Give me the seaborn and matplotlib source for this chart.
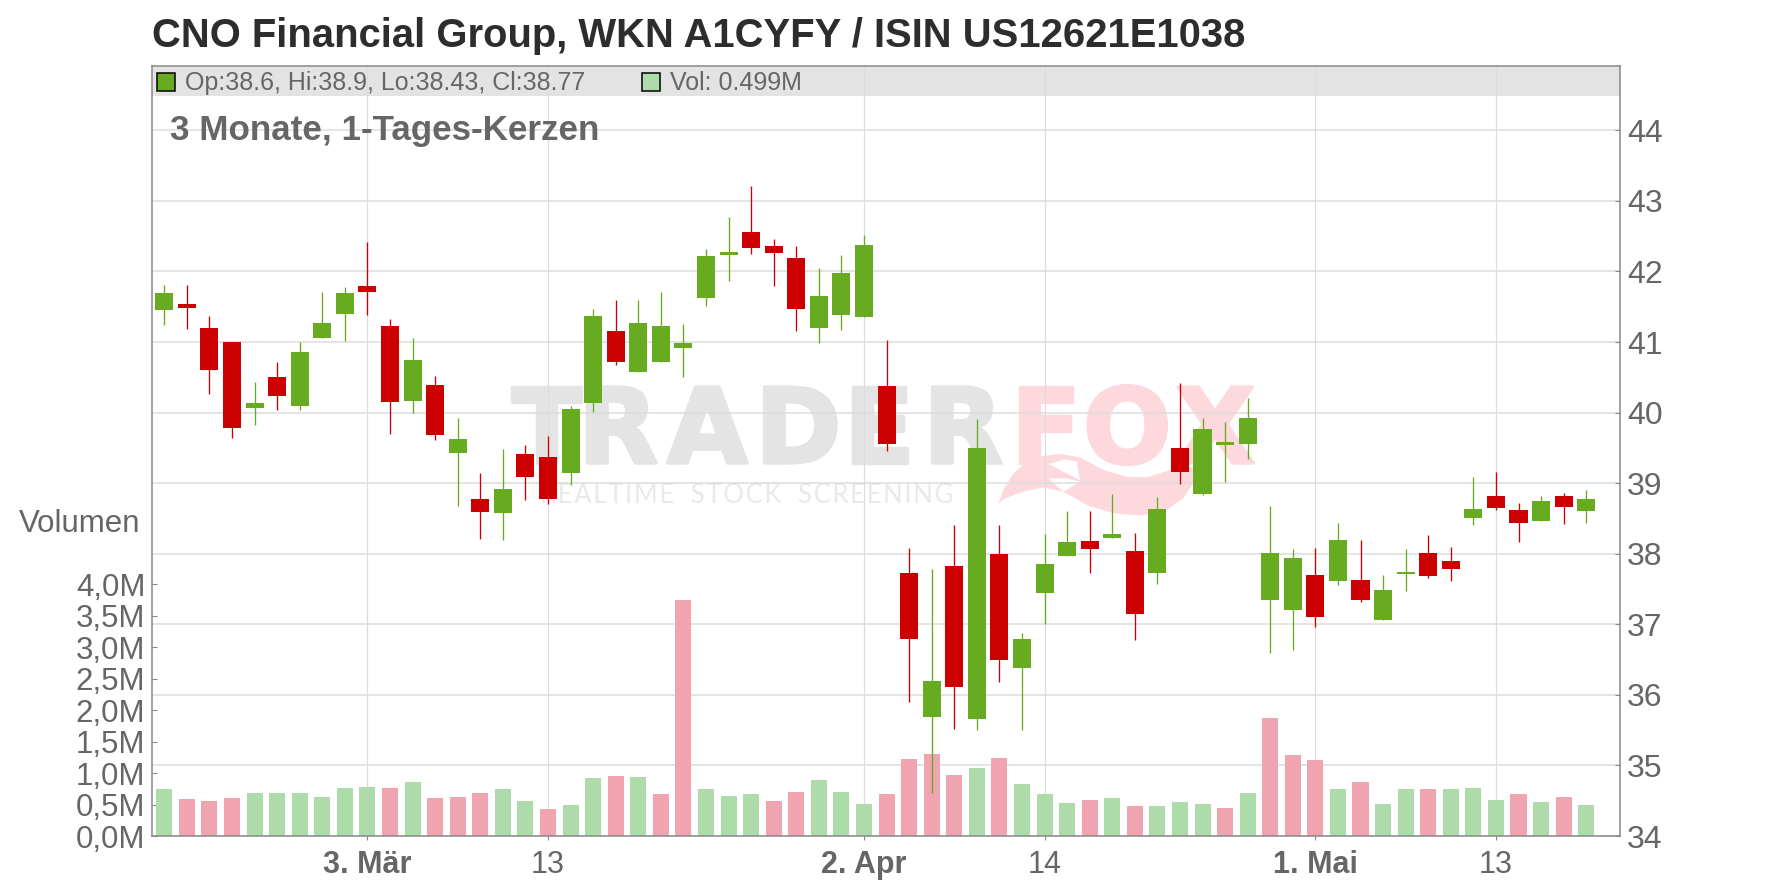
import numpy as np
import pandas as pd
import matplotlib
matplotlib.use("Agg")
import matplotlib.pyplot as plt
from matplotlib.patches import Polygon, Rectangle
import matplotlib.patheffects as pe
import seaborn as sns

opens = [41.45,41.54,41.20,41.00,40.06,40.50,40.09,41.06,41.40,41.79,41.22,40.17,40.39,39.43,38.78,38.58,
         39.42,39.37,39.15,40.13,41.15,40.57,40.71,40.91,41.62,42.24,42.56,42.36,42.19,41.20,41.38,41.36,
         40.37,37.73,35.69,37.83,35.66,38.00,36.38,37.45,37.97,38.18,38.22,38.04,37.72,39.50,38.85,39.54,
         39.55,37.35,37.20,37.70,37.62,37.63,37.06,37.71,38.01,37.89,38.50,38.82,38.62,38.47,38.82,38.60]
highs = [41.81,41.81,41.37,41.00,40.44,40.72,41.00,41.71,41.78,42.42,41.33,41.06,40.52,39.93,39.15,39.49,
         39.54,39.67,40.10,41.47,41.60,41.60,41.71,41.26,42.32,42.77,43.21,42.46,42.36,42.05,42.23,42.52,
         41.03,38.08,37.78,38.41,39.91,38.41,36.88,38.28,38.61,38.61,38.85,38.30,38.81,40.42,39.92,39.86,
         40.20,38.68,38.07,38.08,38.44,38.20,37.70,38.07,38.27,38.10,39.09,39.16,38.72,38.82,38.86,38.90]
lows = [41.24,41.18,40.27,39.64,39.82,40.03,40.03,41.05,41.02,41.38,39.69,39.99,39.61,38.67,38.21,38.20,
        38.76,38.71,38.98,40.01,40.68,40.57,40.71,40.50,41.51,41.86,42.25,41.79,41.15,40.99,41.17,41.36,
        39.46,35.90,34.61,35.52,35.50,36.18,35.50,37.00,37.97,37.72,38.22,36.78,37.57,38.99,38.83,39.02,
        39.34,36.59,36.64,36.96,37.55,37.31,37.06,37.47,37.65,37.62,38.41,38.62,38.17,38.47,38.42,38.43]
closes = [41.69,41.48,40.61,39.78,40.13,40.23,40.86,41.27,41.69,41.71,40.15,40.74,39.68,39.62,38.59,38.92,
          39.09,38.78,40.05,41.37,40.72,41.27,41.23,40.99,42.22,42.27,42.33,42.26,41.47,41.65,41.98,42.37,
          39.55,36.79,36.20,36.11,39.50,36.50,36.79,37.86,38.17,38.07,38.28,37.15,38.64,39.16,39.77,39.58,
          39.92,38.01,37.94,37.11,38.20,37.35,37.49,37.74,37.69,37.79,38.64,38.65,38.44,38.75,38.66,38.77]
volumes = [.75,.59,.56,.61,.69,.69,.69,.62,.77,.78,.77,.86,.61,.62,.69,.75,
           .56,.43,.50,.93,.96,.94,.66,3.75,.75,.64,.67,.56,.70,.89,.70,.51,
           .66,1.23,1.31,.97,1.08,1.24,.83,.67,.53,.58,.61,.48,.47,.54,.51,.45,
           .69,1.88,1.28,1.21,.74,.86,.51,.74,.75,.75,.77,.58,.66,.54,.62,.499]
volume_up = list("ummmuuuuuumummmuumuumummuuummuuummmmumuuumumuuumummmumuumuuumumu")
price_ticks = [34,35,36,37,38,39,40,41,42,43,44]
volume_ticks = [0,.5,1,1.5,2,2.5,3,3.5,4]
volume_labels = ["0,0M","0,5M","1,0M","1,5M","2,0M","2,5M","3,0M","3,5M","4,0M"]
date_ticks = [9,17,31,39,51,59]
date_labels = ["3. Mär","13","2. Apr","14","1. Mai","13"]
date_bold = [True,False,True,False,True,False]
title = "CNO Financial Group, WKN A1CYFY / ISIN US12621E1038"

GREEN, RED = "#67ab21", "#cc0000"
VGREEN, VRED = "#addcaa", "#efa4af"
TXT = "#666666"
GRID = "#dcdcdc"
SPINE = "#888888"
W, H = 1776, 888
L, R, T, B = 152, 1620, 66, 836

sns.set_theme(style="white")
plt.rcParams["font.family"] = ["Liberation Sans", "DejaVu Sans"]
fig = plt.figure(figsize=(W/100, H/100), dpi=100, facecolor="white")
def fx(x): return x / W
def fy(y): return 1 - y / H

ax = fig.add_axes([fx(L), fy(B), (R-L)/W, (B-T)/H])
ax_vol = ax.twinx()
ax_c = ax.twinx()
ax.set_zorder(1); ax_vol.set_zorder(2); ax_c.set_zorder(3)
ax_vol.patch.set_visible(False); ax_c.patch.set_visible(False)

# volume bars
idx = np.arange(len(opens))
dfv = pd.DataFrame({"i": idx, "v": volumes, "d": volume_up})
sns.barplot(data=dfv, x="i", y="v", hue="d", palette={"u": VGREEN, "m": VRED}, native_scale=True,
            dodge=False, width=.71, saturation=1, legend=False, ax=ax_vol, linewidth=0, errorbar=None)

# candles
o, h, l, c = map(np.array, (opens, highs, lows, closes))
colors = np.where(c >= o, GREEN, RED)
ax_c.vlines(idx, l, h, colors=colors, linewidth=.95, zorder=2)
ax_c.bar(idx, np.abs(c-o), bottom=np.minimum(o, c), width=.8, color=colors, linewidth=0, zorder=3)

xlim = ((L-164.3)/22.57, (R-164.3)/22.57)
plim = (34, 34 + (B-T)/70.57)
for a in (ax, ax_vol, ax_c):
    a.set_xlim(xlim)
    a.set_xlabel(""); a.set_ylabel("")
ax.set_ylim(plim); ax_c.set_ylim(plim)
ax_vol.set_ylim(0, (B-T)/62.9)

# price axis + grid
ax.yaxis.tick_right()
ax.set_yticks(price_ticks)
ax.set_xticks(date_ticks)
ax.set_xticklabels(date_labels)
ax.set_axisbelow("line")
ax.grid(True, axis="y", color=GRID, linewidth=1.1)
ax.grid(True, axis="x", color=GRID, linewidth=.85)
ax.tick_params(axis="y", which="both", right=True, left=False, direction="in", length=3.5, width=.8,
               color=SPINE, labelsize=23, labelcolor=TXT, pad=5)
ax.tick_params(axis="x", bottom=True, direction="out", length=3, width=.8, color=SPINE,
               labelsize=22, labelcolor=TXT, pad=7)
for lab, b in zip(ax.get_xticklabels(), date_bold):
    lab.set_fontweight("bold" if b else "normal")

# volume axis
ax_vol.yaxis.tick_left()
ax_vol.set_yticks(volume_ticks)
ax_vol.set_yticklabels(volume_labels)
ax_vol.tick_params(axis="y", left=True, right=False, direction="in", length=3.5, width=.8, color=SPINE,
                   labelsize=22.5, labelcolor=TXT, pad=4.7)
ax_vol.tick_params(axis="x", bottom=False, labelbottom=False)
ax_c.tick_params(left=False, right=False, bottom=False, labelleft=False, labelright=False, labelbottom=False)

for a in (ax, ax_vol):
    for s in a.spines.values():
        s.set_visible(False)
for s in ax_c.spines.values():
    s.set_visible(True); s.set_color(SPINE); s.set_linewidth(1.1)

# header band
ax.add_patch(Rectangle((0, (B-96)/(B-T)), 1, (96-T)/(B-T), transform=ax.transAxes,
                       facecolor="#e3e3e3", edgecolor="none", zorder=.6))

# watermark
def wm_pts(pts):
    return [(fx(980+x/3), fy(370+y/3)) for x, y in pts]
fig_tr = fig.transFigure
PINK = "#fdd9de"
tail = [(55,400),(70,360),(100,310),(135,280),(170,260),(240,252),(300,262),(370,300),(440,320),(500,322),
        (570,300),(650,290),(640,340),(610,385),(560,420),(480,437),(400,430),(320,405),(250,365),
        (190,352),(130,365),(75,385)]
ax.add_patch(Polygon(wm_pts(tail), closed=True, transform=fig_tr, facecolor=PINK, edgecolor="none", zorder=.7))
for notch in ([(205,282),(255,268),(290,275),(300,330),(250,305)], [(205,325),(260,325),(300,335),(250,365)]):
    ax.add_patch(Polygon(wm_pts(notch), closed=True, transform=fig_tr, facecolor="white", edgecolor="none", zorder=.8))
wm_letters = ["T","R","A","D","E","R","F","O","X"]
wm_starts = [511,578,667,755,843,923,1010,1083,1175]
for ch, x0 in zip(wm_letters, wm_starts):
    col = PINK if x0 > 1000 else "#e4e4e4"
    t = ax.text(fx(x0), fy(463), ch, transform=fig_tr, fontfamily="DejaVu Sans", fontweight="bold",
                fontsize=75, color=col, ha="left", va="baseline", zorder=.9)
    t.set_path_effects([pe.withStroke(linewidth=2.5, foreground=col)])
ax.text(fx(540), fy(503), "\u200a".join("REALTIME STOCK SCREENING").replace(" ", "  "), transform=fig_tr,
        fontfamily=["Lato", "DejaVu Sans"], fontsize=18.5, color="#e9e9e9", ha="left", va="baseline", zorder=.9)

# texts
fig.text(fx(152), fy(47), title, fontsize=28.85, fontweight="bold", color="#2d2d2d", ha="left", va="baseline")
fig.text(fx(170), fy(140), "3 Monate, 1-Tages-Kerzen", fontsize=25.2, fontweight="bold", color=TXT, ha="left", va="baseline", zorder=10)
fig.text(fx(140), fy(532), "Volumen", fontsize=22.5, color=TXT, ha="right", va="baseline")
fig.text(fx(185), fy(90), "Op:38.6, Hi:38.9, Lo:38.43, Cl:38.77", fontsize=18, color=TXT, ha="left", va="baseline", zorder=10)
fig.text(fx(670), fy(90), "Vol: 0.499M", fontsize=18, color=TXT, ha="left", va="baseline", zorder=10)
for x0, col in ((157, GREEN), (642, VGREEN)):
    fig.add_artist(Rectangle((fx(x0), fy(91)), 18/W, 18/H, transform=fig_tr, facecolor=col, edgecolor="black", linewidth=1.1, zorder=10))

fig.savefig("out.png", dpi=100, facecolor="white")
